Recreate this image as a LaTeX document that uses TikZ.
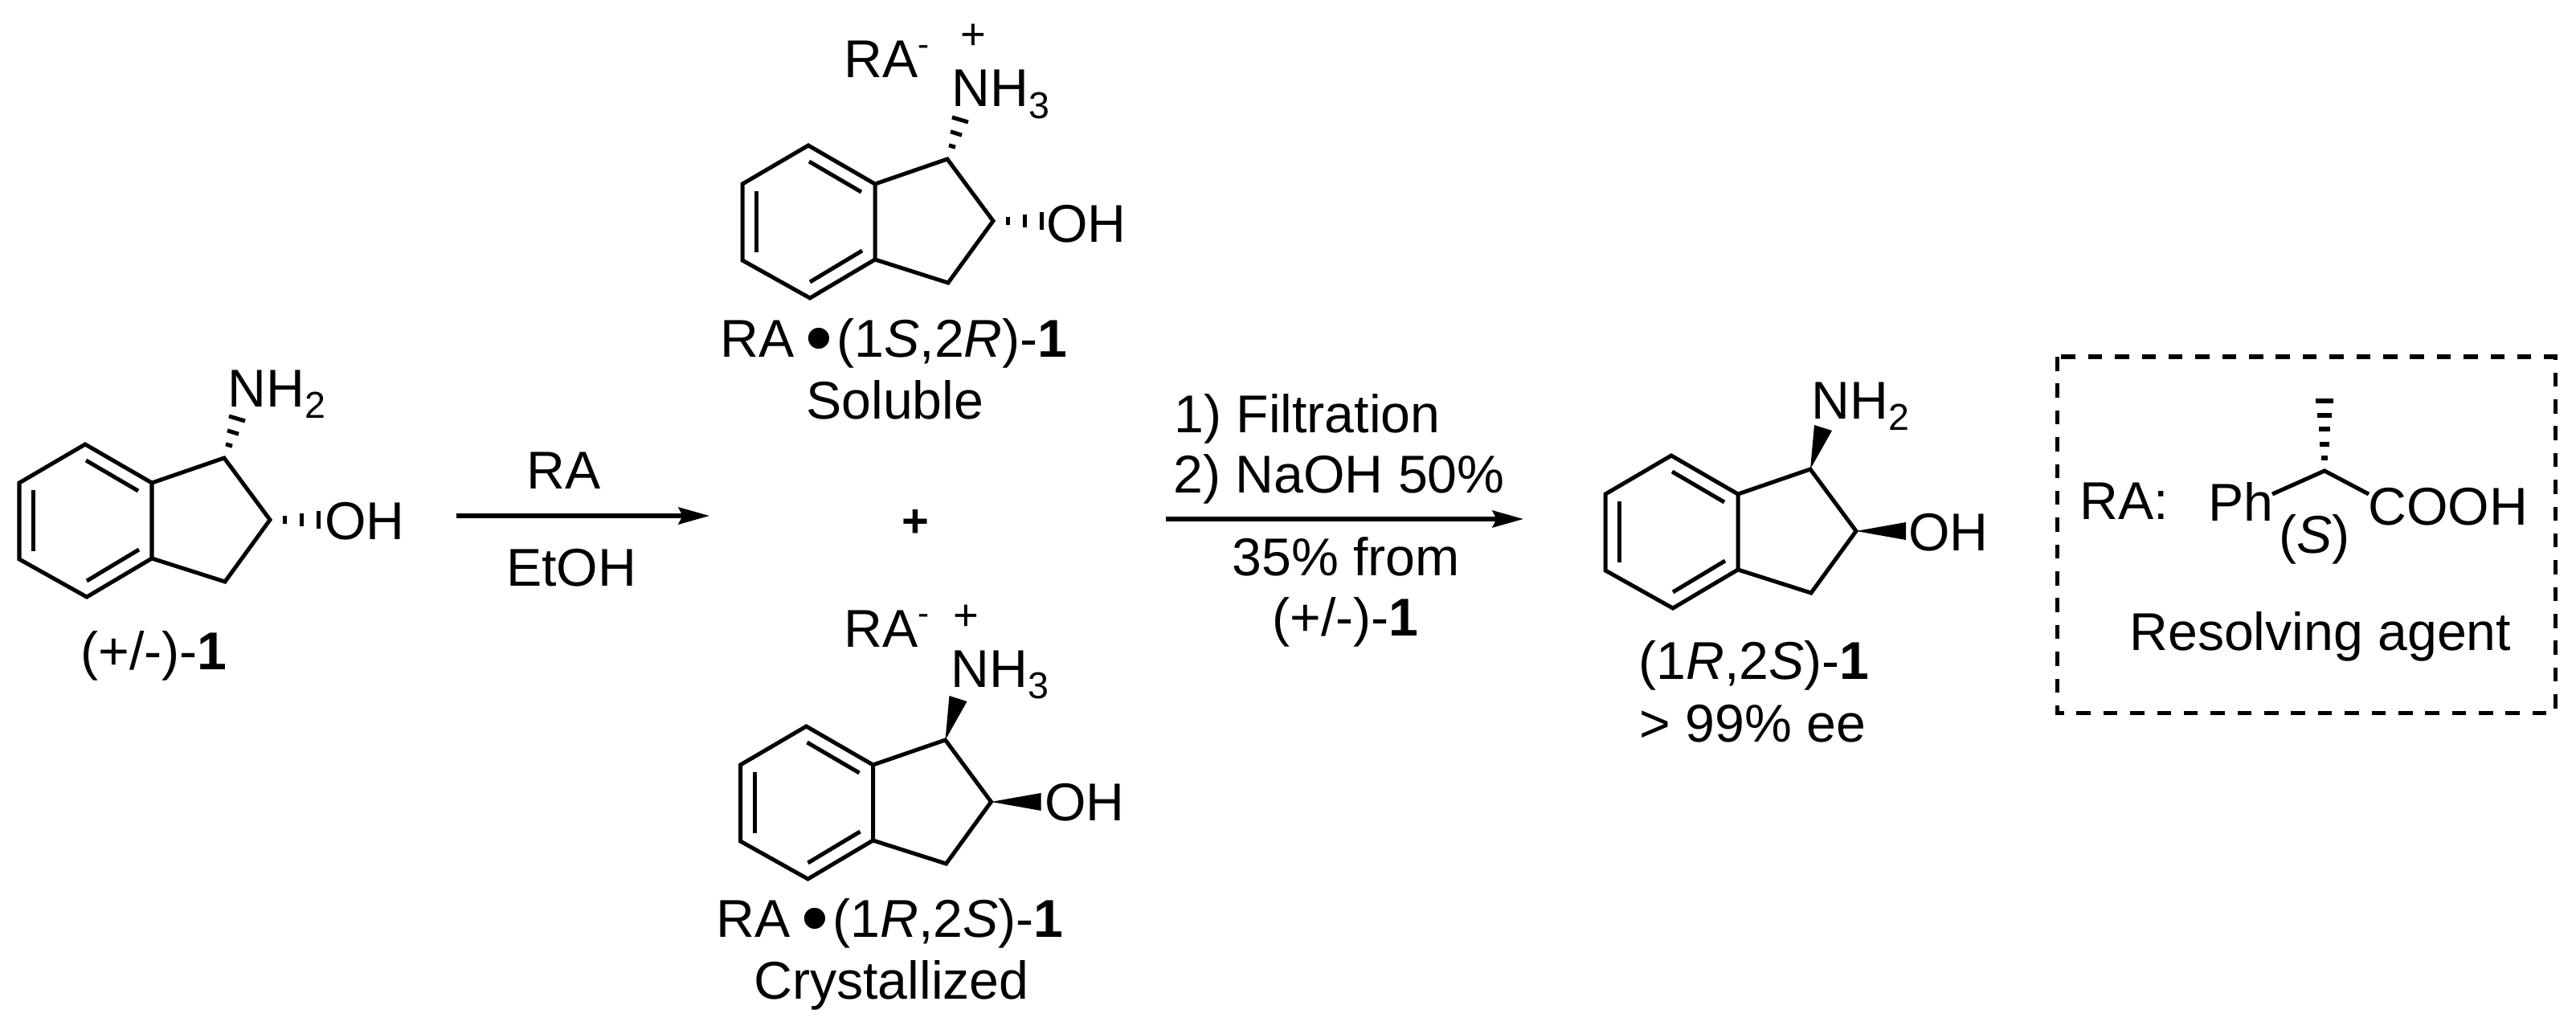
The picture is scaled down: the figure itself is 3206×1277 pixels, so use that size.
\documentclass[tikz,border=0pt]{standalone}
\usepackage{fontspec}
\setmainfont{Liberation Sans}
\usetikzlibrary{arrows.meta}
\newcommand{\molfont}{\fontsize{37.7}{44}\selectfont}
\newcommand{\molsub}[1]{\raisebox{-8pt}{\fontsize{26.5}{30}\selectfont #1}}
\newcommand{\molneg}{\raisebox{15.5pt}{\fontsize{24}{30}\selectfont -}}
\newcommand{\saltdot}{\kern8pt\raisebox{-5.5pt}{\fontsize{55}{60}\selectfont •}\kern3pt}
\tikzset{
  bond/.style={line width=2.85pt,line join=miter},
  chem/.style={anchor=base west,inner sep=0pt,font=\molfont},
  chemmid/.style={anchor=base,inner sep=0pt,font=\molfont},
  charge/.style={anchor=center,inner sep=0pt,font=\fontsize{31}{36}\selectfont},
  indane/.pic={
    \coordinate (-ca) at (90,-78);
    \coordinate (-cb) at (147,-1);
    \draw[bond] (-83,-95) -- (0,-47) -- (0,47) -- (-81,95) -- (-165,48) -- (-165,-47) -- cycle;
    \draw[bond] (0,-47) -- (-ca) -- (-cb) -- (91,76) -- (0,47);
    \draw[bond] (-82,-75) -- (-17,-37);
    \draw[bond] (-147.5,-38) -- (-147.5,38);
    \draw[bond] (-81,75) -- (-16,36);
  },
  hashup/.pic={
    \draw[bond] (2,-17.2) -- (10,-14.8);
    \draw[bond] (4,-34.2) -- (18,-29.8);
    \draw[bond] (6,-52) -- (26,-46);
  },
  hashright/.pic={
    \draw[bond] (18,-5) -- (18,5);
    \draw[bond] (39,-8) -- (39,8);
    \draw[bond] (60,-11) -- (60,11);
  },
  wedgeup/.pic={\fill (0,0) -- (5,-55) -- (27,-48) -- cycle;},
  wedgeright/.pic={\fill (0,0) -- (62,-11) -- (62,11) -- cycle;},
}
\begin{document}
\begin{tikzpicture}[x=0.02cm,y=-0.02cm,>={Stealth[length=22pt,width=12pt,inset=3pt]}]
\useasboundingbox (0,0) rectangle (3206,1277);
% racemic amino alcohol
\pic (mola) at (189,648) {indane};
\pic at (mola-ca) {hashup};
\pic at (mola-cb) {hashright};
\node[chem] (amina) at (283,506) {NH\molsub{2}};
\node[chem] (oha) at (404,671) {OH};
\node[chem] (namea) at (100,833) {(+/-)-\textbf{1}};
% first step
\coordinate (arrowas) at (568,642);
\coordinate (arrowae) at (883,642);
\draw[bond,->] (arrowas) -- (arrowae);
\node[chemmid] (reagent) at (702,608) {RA};
\node[chemmid] (solvent) at (711,729) {EtOH};
% soluble salt
\pic (molb) at (1089,276) {indane};
\pic at (molb-ca) {hashup};
\pic at (molb-cb) {hashright};
\node[chem] (rab) at (1050,97) {RA\molneg};
\node[charge] (plusb) at (1211,46) {+};
\node[chem] (aminb) at (1184,133) {NH\molsub{3}};
\node[chem] (ohb) at (1302,301) {OH};
\node[chem] (nameb) at (896,444) {RA\saltdot(1\textit{S},2\textit{R})-\textbf{1}};
\node[chem] (solub) at (1003,521) {Soluble};
\node[chemmid,font=\fontsize{33}{36}\selectfont\bfseries] (plus) at (1139,668) {+};
% crystallized salt
\pic (molc) at (1086.5,999) {indane};
\pic at (molc-ca) {wedgeup};
\pic at (molc-cb) {wedgeright};
\node[chem] (rac) at (1050,805) {RA\molneg};
\node[charge] (plusc) at (1202,769) {+};
\node[chem] (aminc) at (1183,855) {NH\molsub{3}};
\node[chem] (ohc) at (1300,1021) {OH};
\node[chem] (namec) at (891,1166) {RA\saltdot(1\textit{R},2\textit{S})-\textbf{1}};
\node[chem] (cryst) at (938,1243) {Crystallized};
% second step
\coordinate (arrowbs) at (1451,646);
\coordinate (arrowbe) at (1896,646);
\draw[bond,->] (arrowbs) -- (arrowbe);
\node[chem] (filt) at (1461,538) {1) Filtration};
\node[chem] (naoh) at (1460,613) {2) NaOH 50\%};
\node[chem] (yield) at (1533,716) {35\% from};
\node[chem] (yieldb) at (1583,791) {(+/-)-\textbf{1}};
% product
\pic (mold) at (2163,662) {indane};
\pic at (mold-ca) {wedgeup};
\pic at (mold-cb) {wedgeright};
\node[chem] (amind) at (2254,521) {NH\molsub{2}};
\node[chem] (ohd) at (2375,685) {OH};
\node[chem] (named) at (2039,845) {(1\textit{R},2\textit{S})-\textbf{1}};
\node[chem] (eed) at (2040,923) {> 99\% ee};
% resolving agent box
\draw[line width=2.85pt,dash pattern=on 10pt off 9pt] (2560,444) rectangle (3180,887);
\node[chem] (ralabel) at (2588,646) {RA:};
\node[chem] (ph) at (2748,648) {Ph};
\node[chem] (cooh) at (2947,653) {COOH};
\node[chem] (confs) at (2836,688) {(\textit{S})};
\node[chem] (agent) at (2650,809) {Resolving agent};
\coordinate (cstar) at (2893,586);
\draw[bond] (2828,615) -- (cstar) -- (2948,615);
\draw[bond] (2882,499) -- (2904,499);
\draw[bond] (2884,517) -- (2902,517);
\draw[bond] (2886,534) -- (2900,534);
\draw[bond] (2887,553) -- (2899,553);
\draw[bond] (2889,570) -- (2897,570);
\end{tikzpicture}
\end{document}
